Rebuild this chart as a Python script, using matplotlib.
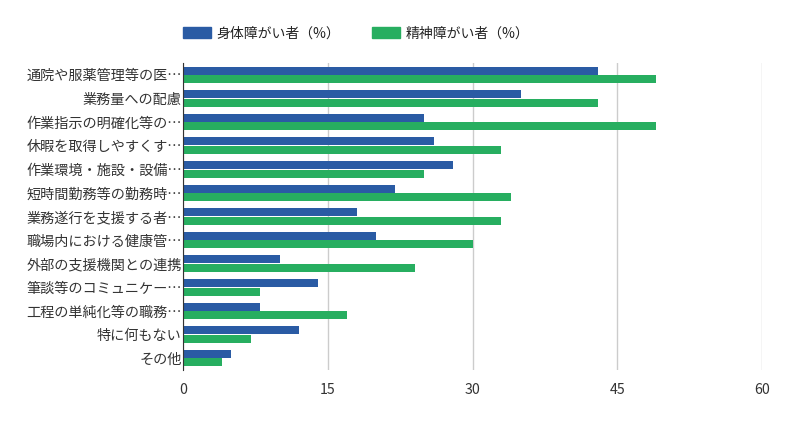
import matplotlib
matplotlib.use('Agg')
import numpy as np
import matplotlib.pyplot as plt
from matplotlib.patches import Patch

plt.rcParams['font.family'] = ['Noto Sans CJK JP', 'DejaVu Sans']

# data
categories = ['通院や服薬管理等の医…', '業務量への配慮', '作業指示の明確化等の…',
              '休暇を取得しやすくす…', '作業環境・施設・設備…', '短時間勤務等の勤務時…',
              '業務遂行を支援する者…', '職場内における健康管…', '外部の支援機関との連携',
              '筆談等のコミュニケー…', '工程の単純化等の職務…', '特に何もない', 'その他']
physical = [43, 35, 25, 26, 28, 22, 18, 20, 10, 14, 8, 12, 5]
mental = [49, 43, 49, 33, 25, 34, 33, 30, 24, 8, 17, 7, 4]
series_names = ['身体障がい者（%）', '精神障がい者（%）']
xticks = [0, 15, 30, 45, 60]

blue = '#2a5ba4'
green = '#27ae60'

fig = plt.figure(figsize=(8.01, 4.32), dpi=100)
ax = fig.add_axes([183 / 801, 1 - 370 / 432, 579 / 801, 307 / 432])

y = np.arange(len(categories))
h = 0.34
ax.barh(y - h / 2 - 0.01, physical, height=h, color=blue, zorder=3)
ax.barh(y + h / 2 + 0.01, mental, height=h, color=green, zorder=3)

ax.set_ylim(len(categories) - 0.5, -0.5)
ax.set_xlim(0, 60)
ax.set_xticks(xticks)
ax.set_yticks(y)
ax.set_yticklabels(categories)
ax.tick_params(axis='both', length=0, labelsize=10.2, colors='#333333')
ax.tick_params(axis='x', pad=9)
ax.tick_params(axis='y', pad=1)
ax.grid(axis='x', color='#cccccc', linewidth=1, zorder=0)
for s in ['top', 'right', 'bottom']:
    ax.spines[s].set_visible(False)
ax.spines['left'].set_color('#333333')
ax.spines['left'].set_zorder(4)

handles = [Patch(color=blue), Patch(color=green)]
fig.legend(handles, series_names, loc='center', bbox_to_anchor=(0.445, 0.923),
           ncol=2, frameon=False, fontsize=10, handlelength=2.0,
           handleheight=0.75, handletextpad=0.4, columnspacing=2.3,
           labelcolor='#222222')

fig.savefig('out.png', dpi=100)
